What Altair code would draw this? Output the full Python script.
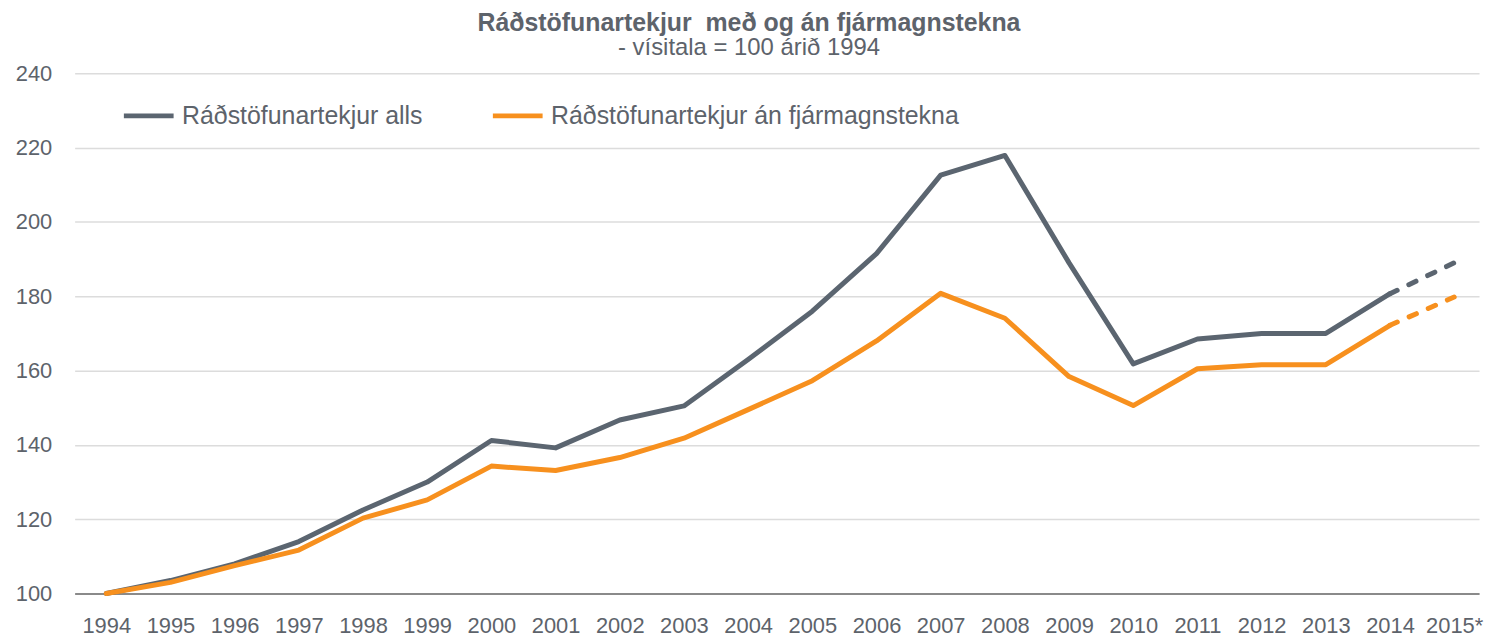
import altair as alt
import pandas as pd

years = ["1994", "1995", "1996", "1997", "1998", "1999", "2000", "2001", "2002",
         "2003", "2004", "2005", "2006", "2007", "2008", "2009", "2010", "2011",
         "2012", "2013", "2014", "2015*"]
total = [100, 103.5, 108, 114, 122.5, 130, 141.2, 139.2, 146.7, 150.5, 163, 176,
         191.5, 212.6, 217.9, 189, 161.8, 168.5, 170, 170, 180.7, 189]
excl = [100, 103, 107.5, 111.7, 120.3, 125.2, 134.3, 133.1, 136.6, 141.8, 149.5,
        157.3, 168, 180.8, 174.1, 158.4, 150.6, 160.5, 161.6, 161.6, 172.2, 179.8]
series_names = ["Ráðstöfunartekjur alls", "Ráðstöfunartekjur án fjármagnstekna"]
series_colors = ["#5b6570", "#f7901e"]
last_solid = "2014"

rows = []
for name, vals in zip(series_names, [total, excl]):
    for i, (y, v) in enumerate(zip(years, vals)):
        rows.append({"year": y, "idx": i, "series": name, "value": v})
df = pd.DataFrame(rows)
cut = years.index(last_solid)
solid_df = df[df["idx"] <= cut]
dashed_df = df[df["idx"] >= cut]

FONT = "Liberation Sans"
TXT = "#5d636b"

x_enc = alt.X(
    "year:O", sort=years,
    scale=alt.Scale(type="point", padding=0.44, align=0.56),
    axis=alt.Axis(title=None, labelAngle=0, grid=False, ticks=False, domain=True,
                  domainColor="#8a8a8a", domainWidth=2, labelPadding=22,
                  labelFontSize=22, labelColor=TXT, labelFont=FONT),
)
y_enc = alt.Y(
    "value:Q",
    scale=alt.Scale(domain=[100, 240], nice=False, zero=False),
    axis=alt.Axis(title=None, values=[100, 120, 140, 160, 180, 200, 220, 240],
                  grid=True, gridColor="#dcdcdc", gridWidth=1.5, domain=False,
                  ticks=False, labelPadding=23, labelFontSize=22, labelColor=TXT,
                  labelFont=FONT),
)
color_scale = alt.Scale(domain=series_names, range=series_colors)

solid = alt.Chart(solid_df).mark_line(strokeWidth=5, strokeCap="round", strokeJoin="round").encode(
    x=x_enc, y=y_enc,
    color=alt.Color("series:N", scale=color_scale, sort=series_names,
                    legend=alt.Legend(orient="none", legendX=47, legendY=15,
                                      direction="horizontal", title=None,
                                      symbolType="stroke", symbolSize=2500,
                                      symbolStrokeWidth=5, labelFontSize=25,
                                      labelColor=TXT, labelFont=FONT, labelOffset=6,
                                      columnPadding=60, labelLimit=600)),
    order=alt.Order("idx:Q"),
)
dashed = alt.Chart(dashed_df).mark_line(strokeWidth=5, strokeCap="round", strokeDash=[8, 13]).encode(
    x=x_enc, y=y_enc,
    color=alt.Color("series:N", scale=color_scale, sort=series_names, legend=None),
    order=alt.Order("idx:Q"),
)

chart = alt.layer(solid, dashed).properties(
    width=1412, height=523,
    padding={"left": 67, "top": 64, "right": 8, "bottom": 47},
    autosize=alt.AutoSizeParams(type="none"),
    title=alt.TitleParams(
        text="Ráðstöfunartekjur\u00a0 með og án fjármagnstekna",
        subtitle="- vísitala = 100 árið 1994",
        fontSize=25, fontWeight="bold", font=FONT, color=TXT,
        subtitleFontSize=24, subtitleFont=FONT, subtitleColor=TXT,
        subtitlePadding=1, anchor="middle", dx=-28, offset=2,
    ),
).configure_view(stroke=None)

chart.save("out.html", embed_options={"renderer": "svg", "actions": False})
